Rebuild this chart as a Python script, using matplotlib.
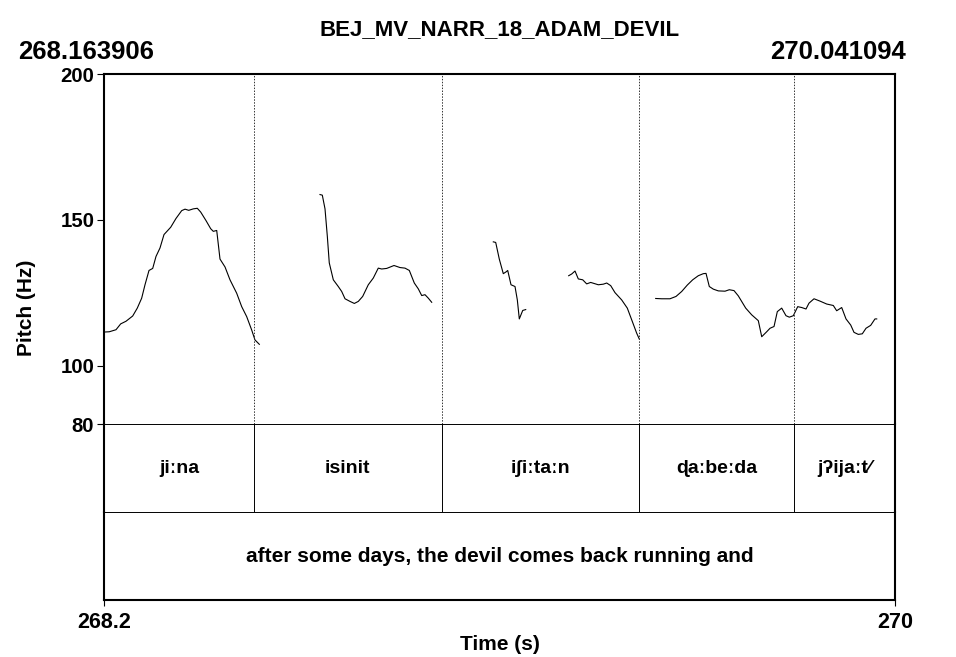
import matplotlib
matplotlib.use("Agg")
import matplotlib.pyplot as plt

plt.rcParams['font.family'] = ['Liberation Sans', 'DejaVu Sans']
plt.rcParams['font.weight'] = 'bold'

title = "BEJ_MV_NARR_18_ADAM_DEVIL"
t_start = 268.163906
t_end = 270.041094
f_min, f_max = 80, 200
y_ticks = [80, 100, 150, 200]

# pitch contour pieces (s, Hz)
seg1_t = [268.1639, 268.1765, 268.1924, 268.2035, 268.2161, 268.2320, 268.2429,
          268.2533, 268.2612, 268.2707, 268.2795, 268.2873, 268.2968, 268.3063,
          268.3222, 268.3347, 268.3483, 268.3562, 268.3650, 268.3758, 268.3853,
          268.3934, 268.4059, 268.4171, 268.4233, 268.4314, 268.4392, 268.4511,
          268.4629, 268.4788, 268.4907, 268.5025, 268.5144, 268.5222, 268.5325]
seg1_hz = [111.6, 111.7, 112.4, 114.4, 115.3, 117.1, 119.8, 123.2, 127.8, 132.7,
           133.4, 137.5, 140.4, 145.0, 147.5, 150.5, 153.2, 153.7, 153.3, 153.8,
           154.0, 152.7, 149.8, 147.0, 146.1, 146.4, 136.6, 133.9, 129.5, 124.9,
           120.3, 116.9, 112.3, 108.9, 107.4]

seg2_t = [268.6765, 268.6820, 268.6884, 268.6939, 268.6985, 268.7081, 268.7199,
          268.7280, 268.7359, 268.7477, 268.7580, 268.7674, 268.7778, 268.7911,
          268.8030, 268.8148, 268.8229, 268.8348, 268.8522, 268.8663, 268.8782,
          268.8885, 268.9003, 268.9098, 268.9179, 268.9257, 268.9336, 268.9416]
seg2_hz = [158.7, 158.5, 153.8, 144.4, 135.3, 129.5, 127.2, 125.5, 123.0, 122.1,
           121.4, 122.1, 123.8, 127.8, 130.1, 133.5, 133.2, 133.4, 134.4, 133.7,
           133.5, 132.7, 128.4, 126.4, 124.1, 124.4, 123.2, 121.8]

seg3_t = [269.0878, 269.0935, 269.1020, 269.1115, 269.1179, 269.1220, 269.1298,
          269.1393, 269.1448, 269.1495, 269.1576, 269.1647]
seg3_hz = [142.5, 142.3, 136.6, 131.6, 132.2, 132.7, 127.8, 127.2, 122.6, 116.1,
           119.0, 119.3]

seg4_t = [269.2667, 269.2739, 269.2817, 269.2895, 269.3000, 269.3094, 269.3189,
          269.3370, 269.3488, 269.3569, 269.3664, 269.3766, 269.3925, 269.4058,
          269.4162, 269.4281, 269.4343]
seg4_hz = [130.9, 131.5, 132.5, 129.8, 129.5, 128.1, 128.6, 127.8, 128.0, 128.4,
           127.5, 125.1, 122.6, 119.8, 115.8, 111.2, 109.2]

seg5_t = [269.4732, 269.4874, 269.5071, 269.5214, 269.5349, 269.5482, 269.5610,
          269.5743, 269.5862, 269.5926, 269.6004, 269.6099, 269.6218, 269.6377,
          269.6479, 269.6590, 269.6692, 269.6868, 269.7010, 269.7167, 269.7248,
          269.7366, 269.7445, 269.7540, 269.7618, 269.7722, 269.7824, 269.7903,
          269.7998, 269.8102, 269.8197, 269.8299, 269.8370, 269.8489, 269.8631,
          269.8790, 269.8947, 269.9027, 269.9146, 269.9248, 269.9360, 269.9438,
          269.9540, 269.9635, 269.9723, 269.9834, 269.9936, 269.9977]
seg5_hz = [123.1, 123.0, 123.0, 123.8, 125.5, 127.7, 129.5, 130.9, 131.6, 131.7,
           127.2, 126.3, 125.7, 125.6, 126.1, 125.8, 124.0, 119.8, 117.5, 115.5,
           110.0, 111.7, 112.9, 113.5, 118.6, 119.8, 117.2, 116.7, 117.2, 120.3,
           120.0, 119.5, 121.5, 123.0, 122.2, 121.2, 120.7, 118.9, 120.0, 116.1,
           114.0, 111.5, 110.8, 111.0, 112.9, 113.9, 116.1, 116.1]

segments = [(seg1_t, seg1_hz), (seg2_t, seg2_hz), (seg3_t, seg3_hz),
            (seg4_t, seg4_hz), (seg5_t, seg5_hz)]

# word tier
boundaries = [268.5199, 268.9653, 269.4336, 269.8021]
words = ["jiːna", "isinit", "iʃiːtaːn", "ɖaːbeːda", "jʔijaːt⁄"]
sentence = "after some days, the devil comes back running and"

W, H = 956, 657
fig = plt.figure(figsize=(W / 100, H / 100), dpi=100)

def fx(px):
    return px / W

def fy(py):
    return 1 - py / H

left, right = 104, 895
ax = fig.add_axes([fx(left), fy(424.3), fx(right - left), fy(74) - fy(424.3)])
ax1 = fig.add_axes([fx(left), fy(512.3), fx(right - left), fy(424.3) - fy(512.3)])
ax2 = fig.add_axes([fx(left), fy(600), fx(right - left), fy(512.3) - fy(600)])

thick, thin = 1.5, 0.7

for t, hz in segments:
    ax.plot(t, hz, color='black', lw=0.8)
for b in boundaries:
    ax.axvline(b, color='#333333', lw=0.7, ls=(0, (1.5, 1.5)))
    ax1.axvline(b, color='black', lw=0.7)

ax.set_xlim(t_start, t_end)
ax.set_ylim(f_min, f_max)
ax.set_yticks(y_ticks)
ax.set_yticklabels([str(v) for v in y_ticks])
ax.tick_params(axis='y', length=5, width=0.8, pad=2, labelsize=14.7)
ax.set_xticks([])

# word tier labels, centred in each interval
edges = [t_start] + boundaries + [t_end]
for i, w in enumerate(words):
    ax1.text((edges[i] + edges[i + 1]) / 2, 0.5, w, ha='center', va='center',
             fontsize=14, transform=ax1.get_xaxis_transform())
ax2.text((t_start + t_end) / 2, 0.5, sentence, ha='center', va='center',
         fontsize=15, transform=ax2.get_xaxis_transform())

for a in (ax1, ax2):
    a.set_xlim(t_start, t_end)
    a.set_ylim(0, 1)
    a.set_yticks([])

ax1.set_xticks([])
ax2.set_xticks([t_start, t_end])
ax2.set_xticklabels(["268.2", "270"])
ax2.tick_params(axis='x', length=4, width=0.8, pad=5, labelsize=15.5)

for a in (ax, ax1, ax2):
    a.spines['left'].set_linewidth(thick)
    a.spines['right'].set_linewidth(thick)
    a.spines['top'].set_linewidth(thin)
    a.spines['bottom'].set_linewidth(thin)
ax.spines['top'].set_linewidth(thick)
ax2.spines['bottom'].set_linewidth(thick)

fig.text(fx((left + right) / 2), fy(30), title, ha='center', va='center', fontsize=16)
fig.text(fx(18), fy(52), "268.163906", ha='left', va='center', fontsize=18.5)
fig.text(fx(906), fy(52), "270.041094", ha='right', va='center', fontsize=18.5)
fig.text(fx(27), fy(308), "Pitch (Hz)", rotation=90, ha='center', va='center', fontsize=15)
fig.text(fx((left + right) / 2), fy(645), "Time (s)", ha='center', va='center', fontsize=15)

fig.savefig("out.png", dpi=100)
